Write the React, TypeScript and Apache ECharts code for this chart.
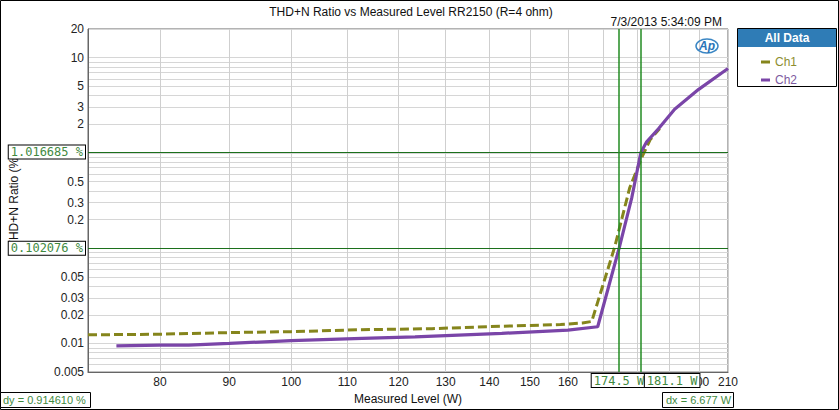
import React, { useEffect, useRef } from "react";
import * as echarts from "echarts";

const ch1X = [70.8, 80, 90, 100, 112, 127, 140, 158, 164, 166.6, 173.2, 177.7, 181.6, 184, 187];
const ch1Y = [0.0123, 0.0125, 0.013, 0.0133, 0.0139, 0.0143, 0.015, 0.0158, 0.0164, 0.017, 0.102, 0.43, 0.93, 1.38, 1.8];

const ch2X = [74.3, 80, 84, 90, 100, 112.8, 123.4, 143, 160, 168.3, 174.6, 178.3, 181.1, 182.9, 186.6, 191.8, 199.8, 210];
const ch2Y = [0.00944, 0.00958, 0.0096, 0.01, 0.0107, 0.0113, 0.0117, 0.01276, 0.0138, 0.01497, 0.102, 0.335, 1.01, 1.31, 1.79, 2.88, 4.65, 7.7];

const xTicks = [80, 90, 100, 110, 120, 130, 140, 150, 160, 170, 180, 190, 200, 210];
const yLabelTicks = [0.005, 0.01, 0.02, 0.03, 0.05, 0.1, 0.2, 0.3, 0.5, 1, 2, 3, 5, 10, 20];
const yGridTicks = [
  0.005, 0.006, 0.007, 0.008, 0.009,
  0.01, 0.02, 0.03, 0.04, 0.05, 0.06, 0.07, 0.08, 0.09,
  0.1, 0.2, 0.3, 0.4, 0.5, 0.6, 0.7, 0.8, 0.9,
  1, 2, 3, 4, 5, 6, 7, 8, 9,
  10, 20,
];

const cursorY = [1.016685, 0.102076];
const cursorX = [174.5, 181.1];
const cursorYText = ["1.016685 %", "0.102076 %"];
const cursorXText = ["174.5 W", "181.1 W"];
const dyText = "dy = 0.914610 %";
const dxText = "dx = 6.677 W";

const OLIVE = "#85851c";
const PURPLE = "#7a45a8";
const GREEN = "#1c701c";
const LABEL_GREEN = "#3f8a3f";
const FONT = "Liberation Sans, Arial, sans-serif";
const MONO = "DejaVu Sans Mono, Liberation Mono, monospace";

const labelSet = new Set(yLabelTicks.map((v) => v.toPrecision(3)));

export default function App() {
  const ref = useRef<HTMLDivElement>(null);
  useEffect(() => {
    if (!ref.current) return;
    const chart = echarts.init(ref.current, undefined, { renderer: "svg" });
    const cursorBox = {
      backgroundColor: "#fff",
      borderColor: "#000",
      borderWidth: 1,
      padding: [1, 2, 0, 2],
      color: LABEL_GREEN,
      fontFamily: MONO,
      fontSize: 12,
    };
    const cursorLine = { color: GREEN, width: 1, type: "solid" as const, opacity: 1 };
    const vLine = { color: "#228b22", width: 1.5, type: "solid" as const, opacity: 1 };
    chart.setOption({
      animation: false,
      backgroundColor: "#fff",
      textStyle: { fontFamily: FONT },
      title: [
        {
          text: "THD+N Ratio vs Measured Level RR2150 (R=4 ohm)",
          left: 406,
          top: 1,
          textAlign: "center",
          textStyle: { fontSize: 12, fontWeight: "normal", color: "#111", fontFamily: FONT },
        },
        {
          text: "7/3/2013 5:34:09 PM",
          right: 112,
          top: 11,
          textStyle: { fontSize: 12, fontWeight: "normal", color: "#111", fontFamily: FONT },
        },
      ],
      grid: {
        left: 85,
        right: 111,
        top: 29,
        bottom: 34,
        show: true,
        borderColor: "#666",
        borderWidth: 1,
        containLabel: false,
      },
      legend: {
        orient: "vertical",
        left: 756,
        top: 51,
        z: 150,
        itemWidth: 9,
        itemHeight: 3,
        itemGap: 6,
        icon: "rect",
        data: [
          { name: "Ch1", textStyle: { color: "#8d8d2e" } },
          { name: "Ch2", textStyle: { color: "#7d5aa0" } },
        ],
        textStyle: { fontSize: 12, fontFamily: FONT },
      },
      xAxis: {
        type: "log",
        min: 70.8,
        max: 210,
        name: "Measured Level (W)",
        nameLocation: "middle",
        nameGap: 15,
        nameTextStyle: { fontSize: 12, color: "#111", fontFamily: FONT, verticalAlign: "top" },
        axisLine: { show: true, lineStyle: { color: "#666" } },
        axisTick: { show: false, customValues: xTicks },
        axisLabel: {
          customValues: xTicks,
          margin: 4,
          fontSize: 12,
          color: "#222",
          formatter: (v: number) => String(Math.round(v)),
        },
        splitLine: { show: true, lineStyle: { color: "#cfcfcf", width: 1 } },
      },
      yAxis: {
        type: "log",
        min: 0.005,
        max: 20,
        name: "THD+N Ratio (%)",
        nameLocation: "middle",
        nameGap: 68,
        nameTextStyle: { fontSize: 12, color: "#111", fontFamily: FONT },
        axisLine: { show: true, lineStyle: { color: "#666" } },
        axisTick: { show: false, customValues: yGridTicks },
        axisLabel: {
          customValues: yGridTicks,
          margin: 4,
          fontSize: 12,
          color: "#222",
          showMinLabel: true,
          showMaxLabel: true,
          hideOverlap: false,
          interval: 0,
          formatter: (v: number) => {
            const key = parseFloat(v.toPrecision(3)).toPrecision(3);
            return labelSet.has(key) ? String(parseFloat(v.toPrecision(3))) : "";
          },
        },
        splitLine: { show: true, lineStyle: { color: "#d6d6d6", width: 1 } },
      },
      series: [
        {
          name: "Ch1",
          type: "line",
          data: ch1X.map((x, i) => [x, ch1Y[i]]),
          showSymbol: false,
          symbol: "none",
          color: OLIVE,
          lineStyle: { color: OLIVE, width: 3, type: [9, 4] },
          z: 3,
        },
        {
          name: "Ch2",
          type: "line",
          data: ch2X.map((x, i) => [x, ch2Y[i]]),
          showSymbol: false,
          symbol: "none",
          color: PURPLE,
          lineStyle: { color: PURPLE, width: 3.2 },
          z: 4,
        },
        {
          name: "cursors",
          type: "line",
          data: [],
          color: GREEN,
          z: 5,
          markLine: {
            silent: true,
            symbol: ["none", "none"],
            lineStyle: cursorLine,
            emphasis: { disabled: true },
            z: 5,
            data: [
              ...cursorY.map((v, i) => ({
                yAxis: v,
                label: { ...cursorBox, position: "start", distance: 3, formatter: cursorYText[i] },
              })),
              [
                { coord: [cursorX[0], 0.005], lineStyle: vLine, label: { ...cursorBox, position: "start", distance: 2, formatter: cursorXText[0] } },
                { coord: [cursorX[0], 20] },
              ],
              [
                {
                  coord: [cursorX[1], 0.005],
                  lineStyle: vLine,
                  label: {
                    position: "start",
                    distance: 2,
                    align: "left",
                    formatter: "{s|}{b|" + cursorXText[1] + "}",
                    rich: {
                      s: { width: 4, height: 12 },
                      b: { ...cursorBox },
                    },
                  },
                },
                { coord: [cursorX[1], 20] },
              ],
            ],
          },
        },
      ],
      graphic: [
        {
          type: "rect",
          z: 100,
          shape: { x: 0.5, y: 0.5, width: 838, height: 409 },
          style: { fill: "none", stroke: "#000", lineWidth: 1 },
          silent: true,
        },
        {
          type: "rect",
          z: 100,
          shape: { x: 737.5, y: 28.5, width: 99, height: 58 },
          style: { fill: "#fff", stroke: "#000", lineWidth: 1 },
        },
        {
          type: "rect",
          z: 101,
          shape: { x: 738, y: 29, width: 98, height: 18 },
          style: { fill: "#2f7cb6" },
        },
        {
          type: "text",
          z: 102,
          x: 787,
          y: 38,
          style: {
            text: "All Data",
            fill: "#fff",
            font: "bold 12px " + FONT,
            align: "center",
            verticalAlign: "middle",
          },
        },
        {
          type: "ellipse",
          z: 10,
          shape: { cx: 707, cy: 46, rx: 11, ry: 7 },
          style: { fill: "none", stroke: "#3a86c4", lineWidth: 1.5 },
        },
        {
          type: "text",
          z: 11,
          x: 707,
          y: 46,
          style: {
            text: "Ap",
            fill: "#2a74b8",
            font: "italic bold 12px " + FONT,
            align: "center",
            verticalAlign: "middle",
          },
        },
        {
          type: "rect",
          z: 100,
          shape: { x: 0.5, y: 392.5, width: 90, height: 15 },
          style: { fill: "#fff", stroke: "#000", lineWidth: 1 },
        },
        {
          type: "text",
          z: 101,
          x: 3,
          y: 400,
          style: { text: dyText, fill: LABEL_GREEN, font: "11px " + FONT, verticalAlign: "middle" },
        },
        {
          type: "rect",
          z: 100,
          shape: { x: 662.5, y: 392.5, width: 71, height: 15 },
          style: { fill: "#fff", stroke: "#000", lineWidth: 1 },
        },
        {
          type: "text",
          z: 101,
          x: 666,
          y: 400,
          style: { text: dxText, fill: LABEL_GREEN, font: "11px " + FONT, verticalAlign: "middle" },
        },
      ],
    });
    return () => chart.dispose();
  }, []);
  return (
    <div
      ref={ref}
      style={{ position: "fixed", left: 0, top: 0, width: 839, height: 410 }}
    />
  );
}
